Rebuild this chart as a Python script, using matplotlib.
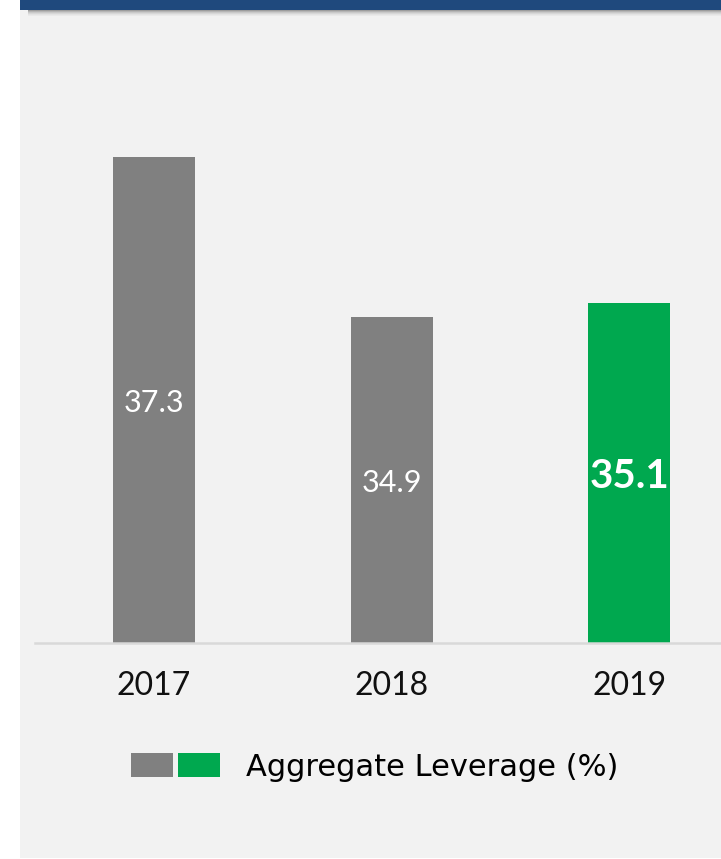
import matplotlib
matplotlib.use("Agg")
import matplotlib.pyplot as plt
from matplotlib.patches import Rectangle, Patch
from matplotlib.legend_handler import HandlerTuple

plt.rcParams["font.family"] = ["Lato", "DejaVu Sans"]

# data
years = ["2017", "2018", "2019"]
leverage = [37.3, 34.9, 35.1]
bar_colors = ["#808080", "#808080", "#00a84f"]
legend_label = "Aggregate Leverage (%)"

W, H = 721, 859
fig = plt.figure(figsize=(W / 100, H / 100), dpi=100)
fig.patch.set_facecolor("white")


def fx(px):
    return px / W


def fy(py):
    return 1 - py / H


# grey panel
fig.patches.append(Rectangle((fx(20), fy(858)), fx(701), 849 / H,
                             transform=fig.transFigure, facecolor="#f2f2f2",
                             edgecolor="none", zorder=-3))
# shadow under header bar
for i, a in enumerate([0.35, 0.25, 0.17, 0.11, 0.06, 0.03]):
    fig.patches.append(Rectangle((fx(28), fy(10 + i + 1)), fx(693), 1 / H,
                                 transform=fig.transFigure, facecolor="black",
                                 alpha=a, edgecolor="none", zorder=-2))
# header bar
fig.patches.append(Rectangle((fx(20), fy(10)), fx(701), 10 / H,
                             transform=fig.transFigure, facecolor="#1f497d",
                             edgecolor="none", zorder=-1))

ax = fig.add_axes([fx(35), fy(643), 1 - fx(35), (643 - 60) / H])
ax.set_facecolor("none")
ax.set_zorder(2)

ylo = 30
x = list(range(len(years)))
ax.bar(x, leverage, bottom=0, width=0.345, color=bar_colors, zorder=2)
ax.set_xlim(-0.5, 2.385)
ax.set_ylim(ylo, 38.75)

for i, v in enumerate(leverage):
    last = i == len(leverage) - 1
    ax.annotate(f"{v:.1f}", (i, (ylo + v) / 2), xytext=(0, -2.5), textcoords="offset points",
                ha="center", va="center", color="white",
                fontsize=29 if last else 22,
                fontweight="bold" if last else "normal", zorder=3)

ax.set_xticks(x)
ax.set_xticklabels(years, fontsize=23, color="#111111")
ax.tick_params(axis="x", length=0, pad=20)
ax.set_yticks([])
for s in ["top", "right", "left"]:
    ax.spines[s].set_visible(False)
ax.spines["bottom"].set_color("#d9d9d9")
ax.spines["bottom"].set_linewidth(1.8)

h = (Patch(facecolor=bar_colors[0]), Patch(facecolor=bar_colors[2]))
leg = fig.legend([h], [legend_label], handler_map={tuple: HandlerTuple(ndivide=None, pad=0.16)},
                 loc="center left", bbox_to_anchor=(fx(131), fy(767)), frameon=False,
                 prop={"family": "DejaVu Sans", "size": 22}, handlelength=2.92,
                 handleheight=0.82, handletextpad=0.85, borderpad=0, borderaxespad=0)

fig.savefig("out.png", dpi=100)
